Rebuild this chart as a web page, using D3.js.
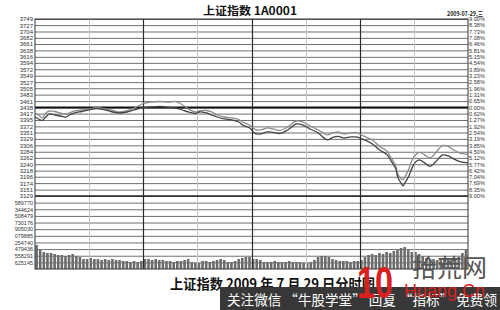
<!DOCTYPE html>
<html lang="zh">
<head>
<meta charset="utf-8">
<title>上证指数 2009 年 7 月 29 日分时图</title>
<script src="https://cdn.jsdelivr.net/npm/d3@7"></script>
<style>
  body { margin: 0; background: #fff; }
  svg { display: block; font-family: "Liberation Sans", Arial, sans-serif; }
</style>
</head>
<body>
<div id="chart"></div>
<script>
// previous close, the 0.00% line
const prevClose = 3438;

// minutes after 9:30 (trading time, 240 in the day)
const minutes = [0,2,4,6,8,11,14,17,19,22,26,30,34,39,43,47,51,55,60,64,69,75,78,81,85,89,91,95,98,101,
  105,109,113,115,119,122,125,129,132,136,140,145,149,152,157,162,165,168,171,175,178,182,187,191,195,
  197,200,201,203,204,205,207,209,211,213,216,219,222,226,229,232,236,240];

// the two price lines
const upperLine = [3418.8,3411.8,3401.4,3418.8,3425.8,3424.0,3418.8,3415.3,3418.8,3425.8,3429.3,3432.8,3438.0,3432.8,3427.5,
  3422.3,3427.5,3436.3,3452.0,3457.2,3458.9,3457.2,3458.9,3450.2,3432.8,3422.3,3425.8,3427.5,3422.3,3411.8,
  3404.8,3401.4,3396.1,3387.4,3376.9,3361.2,3359.5,3366.5,3363.0,3357.7,3369.9,3390.9,3385.6,3375.2,3359.5,
  3342.0,3349.0,3352.5,3345.5,3349.0,3350.8,3338.5,3324.6,3301.9,3286.2,3265.2,3233.8,3205.9,3188.5,3185.0,
  3195.4,3219.9,3254.8,3272.2,3280.9,3272.2,3261.8,3279.2,3305.4,3301.9,3289.7,3277.5,3274.0];
const lowerLine = [3404.8,3397.9,3392.6,3404.8,3415.3,3411.8,3408.3,3404.8,3411.8,3418.8,3424.0,3429.3,3434.5,3429.3,3422.3,
  3418.8,3422.3,3429.3,3438.0,3439.7,3441.5,3438.0,3436.3,3431.0,3422.3,3417.1,3422.3,3418.8,3411.8,3404.8,
  3397.9,3394.4,3387.4,3376.9,3366.5,3347.3,3345.5,3352.5,3350.8,3347.3,3359.5,3380.4,3375.2,3364.7,3349.0,
  3324.6,3333.3,3336.8,3331.6,3335.0,3335.0,3326.3,3310.6,3289.7,3274.0,3254.8,3223.4,3195.4,3172.8,3164.0,
  3174.5,3195.4,3226.9,3247.8,3254.8,3244.3,3232.1,3247.8,3272.2,3268.7,3258.3,3247.8,3244.3];

// left price labels and right percent ticks (top to bottom)
const priceLabels = ["3749","3727","3704","3682","3661","3638","3616","3594","3572","3549","3527","3505","3483","3461",
  "3438","3417","3395","3372","3351","3329","3306","3284","3262","3240","3218","3196","3174","3151","3129"];
const pctTicks = [9.00,8.38,7.73,7.08,6.46,5.81,5.15,4.54,3.89,3.23,2.58,1.96,1.31,0.65,0,
  -0.62,-1.27,-1.92,-2.54,-3.19,-3.85,-4.50,-5.12,-5.77,-6.42,-7.04,-7.69,-8.35,-9.00];

// volume grid (thousands) and the labels printed beside it
const volTicks = [1748.55,1573.695,1398.84,1223.985,1049.13,874.275,699.42,524.565,349.71,174.855];
const volLabels = ["589770","344624","508479","730176","905030","079885","254740","479436","558291","625145"];

// volume per 2 minutes, thousands
const volumes = [632,500,448,422,422,395,369,369,343,369,
  395,343,316,263,263,290,263,263,237,263,
  237,263,237,237,211,211,184,211,184,211,
  263,263,237,263,237,237,211,211,184,211,
  211,237,263,184,158,158,211,211,184,211,
  237,263,237,184,184,211,263,290,316,316,
  263,263,237,184,184,184,211,184,184,184,
  211,184,184,184,158,158,184,237,316,343,
  343,316,263,237,211,211,211,184,211,211,
  237,316,369,395,369,422,395,448,422,474,
  500,553,580,500,448,448,395,343,290,263,
  263,237,263,263,263,290,263,316,422,500];

const halfHours = [30,60,90,120,150,180,210];
const hours = [60,120,180];

// layout
var width = 500, height = 310;
var m = {left: 35, right: 468, top: 19, mid: 196, bottom: 269};

var svg = d3.select("#chart").append("svg")
  .attr("width", width)
  .attr("height", height);

var x = d3.scaleLinear().domain([0, 240]).range([m.left, m.right]);
var yPct = d3.scaleLinear().domain([-9, 9]).range([m.mid, m.top]);
var yPrice = d3.scaleLinear().domain([prevClose * 0.91, prevClose * 1.09]).range([m.mid, m.top]);
var yVol = d3.scaleLinear().domain([0, 11 * 174.855]).range([m.bottom, m.mid]);

// volume bars first, grid goes over them
var step = x(2) - x(0);
svg.append("g").selectAll("rect")
  .data(volumes)
  .enter().append("rect")
    .attr("x", function(d, i) { return x(i * 2) + 0.3; })
    .attr("width", step - 1)
    .attr("y", function(d) { return yVol(d); })
    .attr("height", function(d) { return m.bottom - yVol(d); })
    .attr("fill", "#6c6c6c");

// price grid + left labels
var gl = svg.append("g")
  .attr("transform", "translate(" + m.left + ",0)")
  .call(d3.axisLeft(yPct).tickValues(pctTicks).tickSize(-(m.right - m.left)).tickPadding(2)
    .tickFormat(function(d, i) { return priceLabels[i]; }));
gl.select(".domain").remove();
gl.selectAll("line").attr("stroke", "#707070");
gl.selectAll("text").attr("font-size", 6).attr("fill", "#333");

// right percent labels
var gr = svg.append("g")
  .attr("transform", "translate(" + m.right + ",0)")
  .call(d3.axisRight(yPct).tickValues(pctTicks).tickSize(0).tickPadding(1)
    .tickFormat(function(d) { return d3.format(".2f")(Math.abs(d)) + "%"; }));
gr.select(".domain").remove();
gr.selectAll("text").attr("font-size", 5.6).attr("fill", "#333")
  .attr("font-family", "'Liberation Sans Narrow', 'Arial Narrow', sans-serif");

// volume grid + labels
var gv = svg.append("g")
  .attr("transform", "translate(" + m.left + ",0)")
  .call(d3.axisLeft(yVol).tickValues(volTicks).tickSize(-(m.right - m.left)).tickPadding(2)
    .tickFormat(function(d, i) { return volLabels[i]; }));
gv.select(".domain").remove();
gv.selectAll("line").attr("stroke", "#707070");
gv.selectAll("text").attr("font-size", 5.5).attr("fill", "#333");

// time grid
svg.append("g").selectAll("line")
  .data(halfHours)
  .enter().append("line")
    .attr("x1", function(d) { return Math.round(x(d)) + 0.5; })
    .attr("x2", function(d) { return Math.round(x(d)) + 0.5; })
    .attr("y1", m.top)
    .attr("y2", m.bottom)
    .attr("stroke", function(d) { return hours.indexOf(d) >= 0 ? "#2a2a2a" : "#c4c4c4"; })
    .attr("stroke-width", function(d) { return hours.indexOf(d) >= 0 ? 1.2 : 1; });

// previous close line and price/volume divider
svg.append("line")
  .attr("x1", m.left).attr("x2", m.right)
  .attr("y1", yPct(0)).attr("y2", yPct(0))
  .attr("stroke", "#111").attr("stroke-width", 2);
svg.append("line")
  .attr("x1", m.left).attr("x2", m.right)
  .attr("y1", yPct(-9)).attr("y2", yPct(-9))
  .attr("stroke", "#222").attr("stroke-width", 1.5);

// frame
svg.append("rect")
  .attr("x", m.left).attr("y", m.top)
  .attr("width", m.right - m.left).attr("height", m.bottom - m.top)
  .attr("fill", "none").attr("stroke", "#333").attr("stroke-width", 1);

// price lines
var line = function(vals) {
  return d3.line()
    .x(function(d, i) { return x(minutes[i]); })
    .y(function(d) { return yPrice(d); })
    .curve(d3.curveCatmullRom)(vals);
};
svg.append("path").attr("d", line(upperLine))
  .attr("fill", "none").attr("stroke", "#8c8c8c").attr("stroke-width", 1.3);
svg.append("path").attr("d", line(lowerLine))
  .attr("fill", "none").attr("stroke", "#444").attr("stroke-width", 1.3);

// titles
var cjk = "'Noto Sans CJK SC', 'Noto Sans', sans-serif";
svg.append("text")
  .attr("x", 203).attr("y", 15)
  .attr("textLength", 94).attr("lengthAdjust", "spacingAndGlyphs")
  .attr("font-family", cjk).attr("font-size", 11).attr("font-weight", "bold").attr("fill", "#111")
  .text("上证指数 1A0001");
svg.append("text")
  .attr("x", 447).attr("y", 15.5)
  .attr("textLength", 36).attr("lengthAdjust", "spacingAndGlyphs")
  .attr("font-family", cjk).attr("font-size", 6).attr("font-weight", "bold").attr("fill", "#222")
  .text("2009-07-29,三");
svg.append("text")
  .attr("x", 170).attr("y", 289)
  .attr("textLength", 205).attr("lengthAdjust", "spacingAndGlyphs")
  .attr("font-family", cjk).attr("font-size", 14).attr("font-weight", "bold").attr("fill", "#111")
  .text("上证指数 2009 年 7 月 29 日分时图");

// watermark banner
svg.append("rect")
  .attr("x", 220).attr("y", 287).attr("width", 280).attr("height", 23)
  .attr("fill", "#383838");
svg.append("text")
  .attr("x", 227).attr("y", 305)
  .attr("textLength", 270).attr("lengthAdjust", "spacingAndGlyphs")
  .attr("font-family", cjk).attr("font-size", 14).attr("fill", "#fff")
  .text("关注微信 “牛股学堂” 回复 “指标” 免费领");
svg.append("text")
  .attr("x", 357).attr("y", 298)
  .attr("textLength", 36).attr("lengthAdjust", "spacingAndGlyphs")
  .attr("font-size", 44).attr("font-weight", "bold").attr("fill", "#d9201f")
  .text("10");
svg.append("text")
  .attr("x", 412).attr("y", 277)
  .attr("font-family", cjk).attr("font-size", 25).attr("fill", "#555")
  .text("拾荒网");
svg.append("text")
  .attr("x", 404).attr("y", 297)
  .attr("font-size", 18).attr("fill", "#d9201f")
  .text("Huang.Cn");
</script>
</body>
</html>
